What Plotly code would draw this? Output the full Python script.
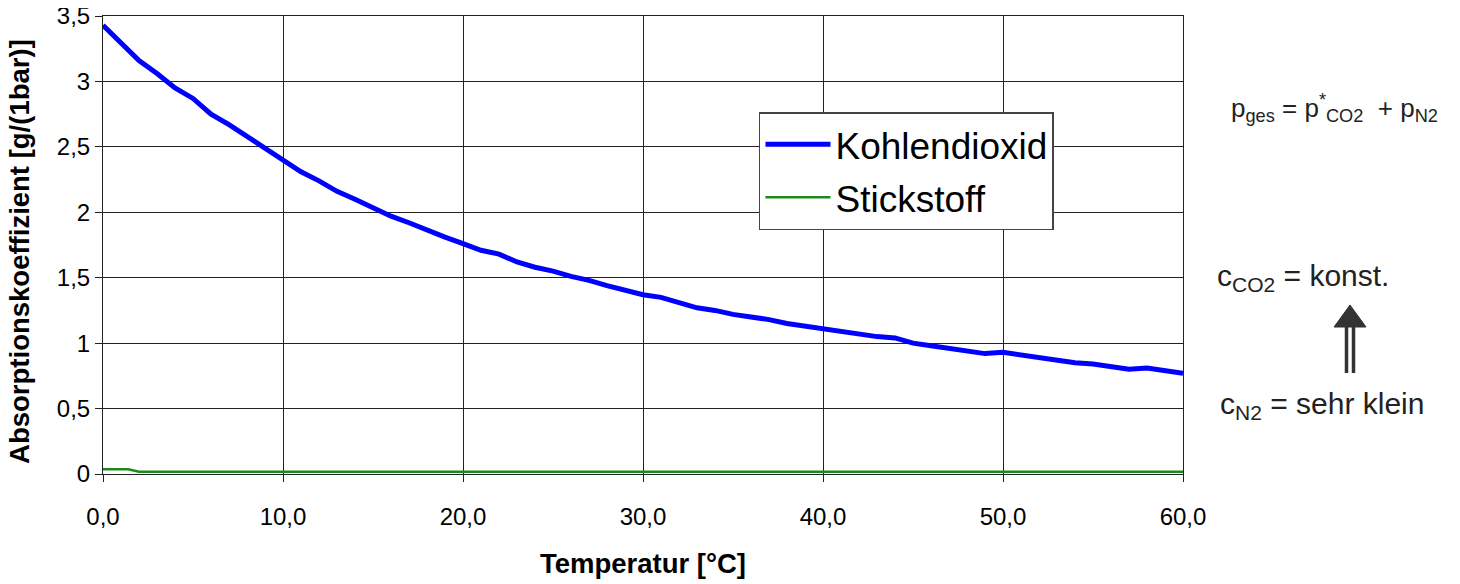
import plotly.graph_objects as go

temperature = list(range(0, 61))
co2 = [3.43, 3.30, 3.16, 3.06, 2.95, 2.87, 2.75, 2.67, 2.58, 2.49,
       2.41, 2.31, 2.24, 2.16, 2.10, 2.03, 1.97, 1.92, 1.86, 1.81,
       1.76, 1.71, 1.68, 1.62, 1.58, 1.55, 1.51, 1.48, 1.44, 1.40,
       1.37, 1.35, 1.31, 1.27, 1.25, 1.22, 1.20, 1.18, 1.15, 1.13,
       1.11, 1.09, 1.07, 1.05, 1.04, 1.00, 0.98, 0.96, 0.94, 0.92,
       0.93, 0.91, 0.89, 0.87, 0.85, 0.84, 0.82, 0.80, 0.81, 0.79,
       0.77]
n2_temperature = [0, 1, 1.4] + list(range(2, 61))
n2 = [0.036, 0.036, 0.036] + [0.018] * 59

x_tickvals = [0, 10, 20, 30, 40, 50, 60]
x_ticktext = ["0,0", "10,0", "20,0", "30,0", "40,0", "50,0", "60,0"]
y_tickvals = [0, 0.5, 1, 1.5, 2, 2.5, 3, 3.5]
y_ticktext = ["0", "0,5", "1", "1,5", "2", "2,5", "3", "3,5"]

FONT = "Liberation Sans, Arial, sans-serif"

fig = go.Figure()
fig.add_trace(go.Scatter(x=temperature, y=co2, mode="lines", name="Kohlendioxid",
                         legendgroup="a", line=dict(color="#0000ff", width=5)))
fig.add_trace(go.Scatter(x=n2_temperature, y=n2, mode="lines", name="Stickstoff",
                         legendgroup="b", line=dict(color="#1a8a1a", width=2.5)))

axis_common = dict(showgrid=True, gridcolor="#222222", gridwidth=1,
                   showline=True, linecolor="#222222", linewidth=1, mirror=True,
                   ticks="outside", ticklen=7, tickcolor="#222222",
                   tickfont=dict(family=FONT, size=24, color="black"),
                   zeroline=False, automargin=False, ticklabeloverflow="allow")

fig.update_xaxes(range=[0, 60], tickvals=x_tickvals, ticktext=x_ticktext,
                 title=dict(text="<b>Temperatur [°C]</b>", standoff=24,
                            font=dict(family=FONT, size=27.5, color="black")),
                 ticklabelstandoff=14,
                 **axis_common)
fig.update_yaxes(range=[0, 3.5], tickvals=y_tickvals, ticktext=y_ticktext,
                 **axis_common)

# the page body adds an 8px offset, margins compensate for it
fig.update_layout(
    width=1460, height=584,
    margin=dict(l=95, r=285, t=8, b=118),
    paper_bgcolor="white", plot_bgcolor="white",
    font=dict(family=FONT, color="black"),
    showlegend=True,
    legend=dict(x=0.6074, y=0.79, xanchor="left", yanchor="top",
                bgcolor="white", bordercolor="#444444", borderwidth=1.5,
                font=dict(family=FONT, size=37, color="black"),
                itemwidth=65, traceorder="grouped", tracegroupgap=2),
)

# y-axis title
fig.add_annotation(xref="paper", yref="paper", x=-0.0769, y=0.487, xanchor="center", yanchor="middle",
                   text="<b>Absorptionskoeffizient [g/(1bar)]</b>", textangle=-90,
                   showarrow=False, font=dict(family=FONT, size=27.5, color="black"))

fig.add_annotation(xref="paper", yref="paper", x=1.043, y=0.80, xanchor="left", yanchor="middle",
                   text="p<sub>ges</sub> = p<sup>*</sup><sub>CO2</sub>  + p<sub>N2</sub>",
                   showarrow=False, font=dict(family=FONT, size=26, color="#222222"))
fig.add_annotation(xref="paper", yref="paper", x=1.03, y=0.43, xanchor="left", yanchor="middle",
                   text="c<sub>CO2</sub> = konst.",
                   showarrow=False, font=dict(family=FONT, size=30, color="#222222"))
fig.add_annotation(xref="paper", yref="paper", x=1.032, y=0.15, xanchor="left", yanchor="middle",
                   text="c<sub>N2</sub> = sehr klein",
                   showarrow=False, font=dict(family=FONT, size=30, color="#222222"))

# double-shafted arrow (screen pixel positions converted to paper coords)
def px(xp):
    return (xp - 103) / 1080
def py(yp):
    return (474 - yp) / 458

fig.add_shape(type="path", xref="paper", yref="paper",
              path=f"M {px(1350)} {py(305)} L {px(1334)} {py(327)} L {px(1366)} {py(327)} Z",
              fillcolor="#333333", line=dict(color="#333333", width=1))
for xs in (1346.5, 1353.5):
    fig.add_shape(type="line", xref="paper", yref="paper",
                  x0=px(xs), x1=px(xs), y0=py(326), y1=py(373),
                  line=dict(color="#333333", width=3.5))

fig.write_html("out.html")
